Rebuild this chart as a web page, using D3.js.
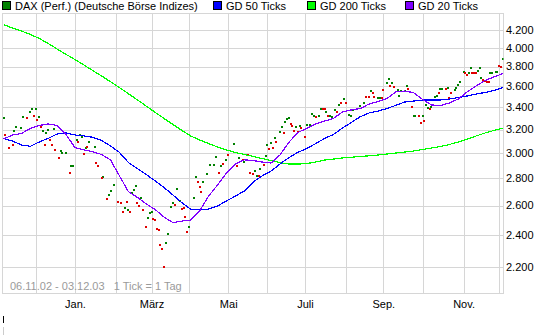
<!DOCTYPE html>
<html><head><meta charset="utf-8">
<script src="https://cdn.jsdelivr.net/npm/d3@7"></script>
<style>
body{margin:0;background:#fff}
svg{display:block}
text{font-family:"Liberation Sans",Arial,sans-serif;font-size:11px}
</style>
</head><body><svg id="c" width="545" height="336"></svg>
<script>
// ---- data ----
const startDate = new Date(2002, 10, 6);
const endDate = new Date(2003, 11, 3);
const rangeLabel = "06.11.02 - 03.12.03   1 Tick = 1 Tag";
const yTicks = [2200, 2400, 2600, 2800, 3000, 3200, 3400, 3600, 3800, 4000, 4200];
const monthNames = ["Jan.", "", "März", "", "Mai", "", "Juli", "", "Sep.", "", "Nov.", ""];
const seriesNames = ["DAX (Perf.) (Deutsche Börse Indizes)", "GD 50 Ticks", "GD 200 Ticks", "GD 20 Ticks"];
const seriesColors = ["#008000", "#0000ff", "#00ff00", "#8000ff"];
const lineStep = 5; // one value every 5 ticks
const gd200 = [4262,4223,4189,4149,4104,4048,3988,3930,3874,3817,3760,3704,3646,3588,3529,3471,3412,3354,3298,3244,3192,3144,3110,3080,3051,3026,3006,2989,2973,2956,2940,2924,2912,2912,2916,2928,2944,2952,2961,2967,2973,2978,2985,2993,3001,3009,3018,3030,3042,3055,3072,3093,3118,3144,3170,3192,3213];
const gd50 = [3123,3101,3068,3057,3093,3124,3161,3170,3153,3145,3133,3106,3059,3006,2924,2877,2830,2781,2731,2676,2620,2573,2573,2575,2597,2633,2668,2705,2773,2819,2857,2912,2964,3006,3038,3079,3123,3157,3213,3262,3314,3348,3366,3389,3419,3450,3459,3469,3469,3469,3478,3493,3507,3526,3541,3560,3589];
const gd20 = [3119,3153,3166,3209,3236,3249,3236,3157,3047,3028,3011,2989,2944,2819,2701,2659,2611,2572,2519,2481,2492,2499,2562,2668,2750,2842,2912,2946,2940,2928,2920,2985,3090,3174,3209,3250,3275,3298,3357,3376,3389,3431,3455,3483,3546,3555,3539,3474,3422,3417,3441,3478,3546,3604,3659,3694,3729];
// DAX daily points [tick, value]
const daxUp = [[0,3301],[6,3190],[7,3220],[10,3211],[11,3315],[15,3360],[16,3382],[18,3382],[20,3315],[22,3190],[24,3168],[25,3196],[28,3202],[32,3021],[33,2999],[35,2999],[38,2898],[39,2898],[41,3111],[43,3154],[44,3139],[46,3041],[48,3097],[51,3055],[56,2809],[59,2677],[60,2702],[62,2751],[68,2585],[70,2569],[72,2694],[73,2714],[74,2744],[77,2653],[81,2513],[82,2547],[83,2558],[91,2350],[92,2405],[94,2588],[95,2616],[97,2720],[99,2635],[104,2451],[107,2653],[108,2809],[112,2776],[114,2835],[116,2906],[118,2906],[119,2972],[122,2893],[125,2946],[129,3072],[132,2960],[135,2928],[141,2859],[142,2821],[144,2872],[147,2980],[148,3069],[150,3084],[152,3126],[155,3176],[156,3220],[158,3270],[159,3292],[160,3301],[164,3220],[166,3232],[170,3241],[172,3241],[173,3337],[174,3322],[177,3322],[178,3382],[181,3360],[183,3322],[184,3315],[186,3375],[188,3422],[191,3479],[194,3331],[195,3322],[196,3375],[198,3384],[200,3415],[202,3444],[206,3559],[210,3486],[211,3486],[215,3637],[216,3672],[218,3637],[221,3566],[222,3508],[223,3559],[225,3559],[226,3604],[230,3322],[231,3322],[235,3322],[237,3422],[238,3396],[240,3400],[242,3501],[243,3508],[245,3572],[246,3572],[249,3582],[253,3566],[254,3582],[255,3614],[256,3647],[258,3742],[261,3732],[262,3783],[266,3756],[267,3789],[268,3682],[273,3732],[274,3732],[276,3742],[277,3742],[280,3878]];
const daxDown = [[1,3154],[3,3046],[5,3069],[13,3301],[17,3322],[19,3286],[21,3225],[23,3069],[26,3111],[27,3069],[29,3027],[31,2960],[37,2840],[42,3097],[45,2994],[47,3055],[52,2920],[53,2893],[55,2801],[58,2646],[64,2628],[66,2616],[67,2558],[69,2628],[71,2558],[75,2621],[76,2597],[78,2569],[80,2451],[84,2506],[85,2501],[86,2437],[87,2432],[88,2336],[89,2309],[90,2200],[96,2604],[100,2576],[101,2585],[102,2519],[103,2421],[109,2771],[110,2734],[111,2697],[121,2840],[123,2914],[126,2986],[131,2893],[134,2946],[137,2986],[138,2845],[140,2835],[143,2821],[146,2906],[149,3033],[151,3046],[153,3092],[157,3168],[161,3247],[162,3234],[163,3190],[165,3181],[167,3216],[169,3139],[175,3315],[179,3382],[180,3382],[182,3322],[187,3355],[189,3438],[192,3438],[203,3501],[205,3496],[207,3540],[208,3496],[212,3486],[213,3566],[217,3604],[219,3591],[227,3572],[229,3406],[233,3322],[234,3256],[236,3277],[239,3385],[244,3534],[248,3572],[250,3486],[251,3540],[259,3732],[260,3715],[263,3738],[264,3738],[265,3732],[269,3665],[270,3658],[271,3647],[272,3647],[278,3806],[279,3799]];

// ---- ticks (weekdays) ----
const days = [];
for (let d = new Date(startDate); d <= endDate; d.setDate(d.getDate() + 1)) {
  if (d.getDay() % 6 !== 0) days.push(new Date(d));
}
const monthStarts = [];
days.forEach((d, i) => { if (i > 0 && d.getMonth() !== days[i-1].getMonth()) monthStarts.push({i, m: d.getMonth()}); });

// ---- layout ----
const W = 545, H = 336;
const plot = {left: 2.5, right: 503.5, top: 13.5, bottom: 293.5};
const svg = d3.select("#c");
const x = d3.scaleLinear().domain([0, days.length - 1]).range([3.6, 502.8]);
const y = d3.scaleLog().domain([2200, 4200]).range([266.7, 30]);
const gridColor = "#d6d6d6";
const fmt = d3.formatLocale({decimal: ",", thousands: ".", grouping: [3], currency: ["", "€"]}).format(",");

const crisp = v => Math.round(v) + 0.5;

// grid
const g = svg.append("g").attr("shape-rendering", "crispEdges");
g.selectAll("line.h").data(yTicks).enter().append("line")
  .attr("x1", plot.left).attr("x2", plot.right)
  .attr("y1", d => crisp(y(d))).attr("y2", d => crisp(y(d)))
  .attr("stroke", gridColor);
g.selectAll("line.v").data(monthStarts).enter().append("line")
  .attr("y1", plot.top).attr("y2", plot.bottom)
  .attr("x1", d => crisp(x(d.i))).attr("x2", d => crisp(x(d.i)))
  .attr("stroke", gridColor);
g.append("rect").attr("x", plot.left).attr("y", plot.top)
  .attr("width", plot.right - plot.left).attr("height", plot.bottom - plot.top)
  .attr("fill", "none").attr("stroke", gridColor);

// range text
svg.append("text").attr("x", 10).attr("y", 290).attr("fill", "#9a9a9a")
  .attr("xml:space", "preserve").style("white-space", "pre").text(rangeLabel);

// clip
svg.append("clipPath").attr("id", "clip").append("rect")
  .attr("x", plot.left).attr("y", plot.top)
  .attr("width", plot.right - plot.left).attr("height", plot.bottom - plot.top);
const pg = svg.append("g").attr("clip-path", "url(#clip)");

// dots
const dotG = pg.append("g").attr("shape-rendering", "crispEdges");
dotG.selectAll("rect.up").data(daxUp).enter().append("rect")
  .attr("x", d => Math.round(x(d[0])) - 1).attr("y", d => Math.round(y(d[1])) - 1)
  .attr("width", 2).attr("height", 2).attr("fill", "#008000");
dotG.selectAll("rect.dn").data(daxDown).enter().append("rect")
  .attr("x", d => Math.round(x(d[0])) - 1).attr("y", d => Math.round(y(d[1])) - 1)
  .attr("width", 2).attr("height", 2).attr("fill", "#e00000");

// lines
const line = d3.line().x((d, i) => x(i * lineStep)).y(d => y(d));
[[gd200, seriesColors[2]], [gd50, seriesColors[1]], [gd20, seriesColors[3]]].forEach(([data, col]) => {
  pg.append("path").datum(data).attr("d", line).attr("fill", "none")
    .attr("stroke", col).attr("stroke-width", 1.2).attr("shape-rendering", "crispEdges");
});

// y axis labels
svg.selectAll("text.yl").data(yTicks).enter().append("text")
  .attr("x", 506).attr("y", d => y(d)).attr("dy", "0.35em").attr("fill", "#000")
  .text(d => fmt(d));

// x labels
svg.selectAll("text.xl").data(monthStarts.filter(d => monthNames[d.m])).enter().append("text")
  .attr("x", d => x(d.i) + 0.5).attr("y", 308).attr("text-anchor", "middle").attr("fill", "#000")
  .text(d => monthNames[d.m]);

// legend
const legX = [2, 213, 307, 405];
const leg = svg.append("g");
seriesNames.forEach((name, k) => {
  leg.append("rect").attr("x", legX[k] + 0.5).attr("y", 1.5).attr("width", 8).attr("height", 8)
    .attr("fill", seriesColors[k]).attr("stroke", "#000").attr("shape-rendering", "crispEdges");
  leg.append("text").attr("x", legX[k] + 13).attr("y", 10).attr("fill", "#000").text(name);
});

// small marks bottom-left
svg.append("line").attr("x1", 3.5).attr("x2", 3.5).attr("y1", 316).attr("y2", 323).attr("stroke", "#000").attr("shape-rendering", "crispEdges");
svg.append("line").attr("x1", 3.5).attr("x2", 3.5).attr("y1", 327).attr("y2", 335).attr("stroke", "#ccc").attr("shape-rendering", "crispEdges");
</script>
</body></html>
